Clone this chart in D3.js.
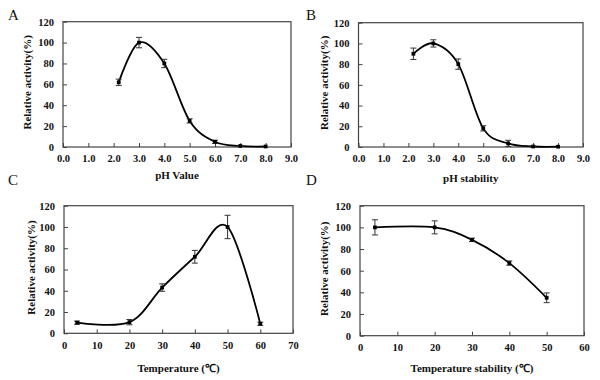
<!DOCTYPE html>
<html>
<head>
<meta charset="utf-8">
<script src="https://cdn.jsdelivr.net/npm/d3@7"></script>
<style>
  body { margin: 0; background: #fff; }
  svg { display: block; }
  text { font-family: "Liberation Serif", "Times New Roman", serif; fill: #111; }
</style>
</head>
<body>
<div id="chart"></div>
<script>
// panel A - pH value
const phX = [2.2, 3, 4, 5, 6, 7, 8];
const phValueY = [62, 100, 80, 25, 5, 1, 0.5];
const phValueErr = [3, 5, 4, 2, 1.5, 0.5, 0];
// panel B - pH stability
const phStabY = [90, 100, 80, 18, 3.5, 0.5, 0.3];
const phStabErr = [5.5, 3.5, 5, 2.5, 3, 0.5, 0];
// panel C - temperature
const tempX = [4, 20, 30, 40, 50, 60];
const tempY = [10, 10.5, 43, 72, 100, 9];
const tempErr = [1.5, 2.5, 3.5, 6, 11, 1.5];
// panel D - temperature stability
const tempStabX = [4, 20, 30, 40, 50];
const tempStabY = [100, 100, 88.5, 67, 35];
const tempStabErr = [7, 6, 1.5, 2, 4.5];

const phTicks = [0, 1, 2, 3, 4, 5, 6, 7, 8, 9];
const yTicks = [0, 20, 40, 60, 80, 100, 120];

const width = 600, height = 380;
const svg = d3.select("#chart").append("svg")
  .attr("width", width).attr("height", height);

function drawPanel(p) {
  const x = d3.scaleLinear().domain(p.xDomain).range([p.left, p.right]);
  const y = d3.scaleLinear().domain([0, 120]).range([p.bottom, p.top]);
  const g = svg.append("g");

  // frame
  g.append("rect")
    .attr("x", p.left).attr("y", p.top)
    .attr("width", p.right - p.left).attr("height", p.bottom - p.top)
    .attr("fill", "none").attr("stroke", "#444").attr("stroke-width", 1.2);

  // x axis, ticks inside
  const xa = g.append("g").attr("transform", `translate(0,${p.bottom})`)
    .call(d3.axisBottom(x).tickValues(p.xTicks).tickFormat(d3.format(p.fmt))
      .tickSizeInner(-4).tickSizeOuter(0).tickPadding(8));
  xa.select(".domain").remove();
  xa.selectAll("line").attr("stroke", "#444");
  xa.selectAll("text").style("font-size", "10.5px").style("font-weight", "bold");

  // y axis
  const ya = g.append("g").attr("transform", `translate(${p.left},0)`)
    .call(d3.axisLeft(y).tickValues(yTicks)
      .tickSizeInner(-4).tickSizeOuter(0).tickPadding(9));
  ya.select(".domain").remove();
  ya.selectAll("line").attr("stroke", "#444");
  ya.selectAll("text").style("font-size", "10.5px").style("font-weight", "bold");

  const pts = p.xs.map((d, i) => ({ x: d, y: p.ys[i], e: p.errs[i] }));

  // smooth line
  g.append("path").datum(pts)
    .attr("fill", "none").attr("stroke", "#000").attr("stroke-width", 1.8)
    .attr("d", d3.line().x(d => x(d.x)).y(d => y(d.y)).curve(d3.curveCardinal.tension(0)));

  // error bars
  const eb = g.selectAll(".eb").data(pts.filter(d => d.e > 0)).join("g").attr("stroke", "#333").attr("stroke-width", 1);
  eb.append("line").attr("x1", d => x(d.x)).attr("x2", d => x(d.x))
    .attr("y1", d => y(d.y - d.e)).attr("y2", d => y(d.y + d.e));
  eb.append("line").attr("x1", d => x(d.x) - 3).attr("x2", d => x(d.x) + 3)
    .attr("y1", d => y(d.y - d.e)).attr("y2", d => y(d.y - d.e));
  eb.append("line").attr("x1", d => x(d.x) - 3).attr("x2", d => x(d.x) + 3)
    .attr("y1", d => y(d.y + d.e)).attr("y2", d => y(d.y + d.e));

  // markers
  g.selectAll(".mk").data(pts).join("path")
    .attr("transform", d => `translate(${x(d.x)},${y(d.y)})`)
    .attr("d", d3.symbol(d3.symbolSquare, 14))
    .attr("fill", "#000");

  // titles
  g.append("text")
    .attr("x", (p.left + p.right) / 2).attr("y", p.xTitleY)
    .attr("text-anchor", "middle")
    .style("font-size", "11px").style("font-weight", "bold")
    .text(p.xTitle);
  g.append("text")
    .attr("transform", `translate(${p.yTitleX},${(p.top + p.bottom) / 2 - 2}) rotate(-90)`)
    .attr("text-anchor", "middle")
    .style("font-size", "11px").style("font-weight", "bold")
    .text("Relative activity(%)");

  // panel letter
  g.append("text")
    .attr("x", p.letterX).attr("y", p.letterY)
    .style("font-size", "15px")
    .text(p.letter);
}

drawPanel({ letter: "A", letterX: 8, letterY: 20,
  xs: phX, ys: phValueY, errs: phValueErr,
  xDomain: [0, 9], xTicks: phTicks, fmt: ".1f",
  left: 63, right: 291, top: 21.7, bottom: 147,
  xTitle: "pH Value", xTitleY: 179, yTitleX: 31 });

drawPanel({ letter: "B", letterX: 306, letterY: 20,
  xs: phX, ys: phStabY, errs: phStabErr,
  xDomain: [0, 9], xTicks: phTicks, fmt: ".1f",
  left: 358.5, right: 583, top: 22.7, bottom: 147,
  xTitle: "pH stability", xTitleY: 182, yTitleX: 328 });

drawPanel({ letter: "C", letterX: 8, letterY: 185,
  xs: tempX, ys: tempY, errs: tempErr,
  xDomain: [0, 70], xTicks: d3.range(0, 71, 10), fmt: "d",
  left: 64, right: 293, top: 205.7, bottom: 333.3,
  xTitle: "Temperature (℃)", xTitleY: 372, yTitleX: 35 });

drawPanel({ letter: "D", letterX: 306, letterY: 185,
  xs: tempStabX, ys: tempStabY, errs: tempStabErr,
  xDomain: [0, 60], xTicks: d3.range(0, 61, 10), fmt: "d",
  left: 360, right: 584, top: 205.7, bottom: 335.7,
  xTitle: "Temperature  stability (℃)", xTitleY: 372, yTitleX: 328 });
</script>
</body>
</html>
